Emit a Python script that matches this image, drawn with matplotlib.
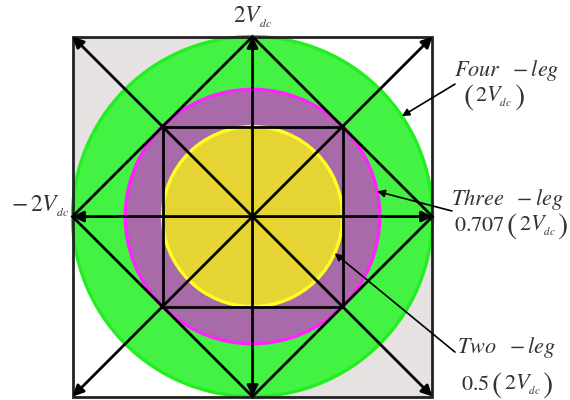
import matplotlib
matplotlib.use("Agg")
import matplotlib.pyplot as plt
from matplotlib.patches import Circle, Rectangle, FancyArrowPatch, Polygon
from matplotlib.offsetbox import TextArea, HPacker, AnnotationBbox
import numpy as np

plt.rcParams["mathtext.fontset"] = "stix"
plt.rcParams["font.family"] = ["STIXGeneral", "DejaVu Serif"]

# Voltage limits expressed as fractions of 2Vdc
names = ["Four", "Three", "Two"]
radii = [1.0, 0.707, 0.5]
prefixes = ["", "0.707", "0.5"]
fills = ["#44f244", "#a86aa8", "#e6d433"]
edges = ["#22ee22", "#ff22ff", "#ffff22"]

# annotation anchor points (tail -> point on circle)
label_pos = [(1.414, 0.814), (1.414, 0.097), (1.414, -0.725)]
value_pos = [(1.339, 0.664), (1.436, -0.053), (1.414, -0.936)]
arrow_tail = [(1.125, 0.736), (1.108, 0.031), (1.125, -0.753)]
arrow_angle_deg = [33.9, 11.4, -24.1]

VDC = r"2V_{{}_{dc}}"

fig = plt.figure(figsize=(5.7, 4.0), dpi=100)
ax = fig.add_axes([0, 0, 1, 1])
ax.set_xlim(-1.403, 1.764)
ax.set_ylim(-1.019, 1.203)
ax.set_aspect("equal")
ax.axis("off")

# grey quadrants behind the circles
gray = "#e6e2e2"
ax.add_patch(Rectangle((-1, 0), 1, 1, facecolor=gray, edgecolor="none", zorder=0))
ax.add_patch(Rectangle((0, -1), 1, 1, facecolor=gray, edgecolor="none", zorder=0))

for r, fc, ec in zip(radii, fills, edges):
    ax.add_patch(Circle((0, 0), r, facecolor=fc, edgecolor=ec, lw=2.4, zorder=1))

lw = 2.0
# outer square
ax.add_patch(Rectangle((-1, -1), 2, 2, facecolor="none", edgecolor="#222222",
                       lw=2.0, zorder=3))
# inner square at +/-0.5
ax.add_patch(Rectangle((-0.5, -0.5), 1, 1, facecolor="none", edgecolor="black",
                       lw=lw, zorder=3))
# diamond through the axis tips
ax.add_patch(Polygon([(0, 1), (1, 0), (0, -1), (-1, 0)], closed=True,
                     facecolor="none", edgecolor="black", lw=lw, zorder=3))

# vectors from the origin to axis tips and corners
tips = [(0, 1), (0, -1), (1, 0), (-1, 0), (1, 1), (-1, 1), (1, -1), (-1, -1)]
for tx, ty in tips:
    ax.add_patch(FancyArrowPatch((0, 0), (tx, ty), arrowstyle="-|>",
                                 mutation_scale=16, lw=lw, color="black",
                                 shrinkA=0, shrinkB=0, zorder=4))

txt_color = "#333333"
ax.text(0, 1.11, f"${VDC}$", ha="center", va="center", fontsize=17,
        color=txt_color)
ax.text(-1.02, 0.06, rf"$-\,{VDC}$", ha="right", va="center", fontsize=17,
        color=txt_color)


def value_box(prefix):
    props = dict(color=txt_color, fontsize=16)
    big = dict(color=txt_color, fontsize=22)
    parts = []
    if prefix:
        parts.append(TextArea(f"${prefix}$", textprops=props))
    parts += [TextArea(r"$($", textprops=big),
              TextArea(f"${VDC}$", textprops=props),
              TextArea(r"$)$", textprops=big)]
    return HPacker(children=parts, align="center", pad=0, sep=1)


for name, r, pre, lp, vp, tail, ang in zip(names, radii, prefixes, label_pos,
                                           value_pos, arrow_tail, arrow_angle_deg):
    ax.text(lp[0], lp[1], rf"$\mathit{{{name}}}\ \ -\mathit{{leg}}$", ha="center",
            va="center", fontsize=16, color=txt_color)
    ab = AnnotationBbox(value_box(pre), vp, frameon=False, box_alignment=(0.5, 0.5),
                        pad=0)
    ax.add_artist(ab)
    a = np.deg2rad(ang)
    head = (r * np.cos(a), r * np.sin(a))
    ax.add_patch(FancyArrowPatch(tail, head, arrowstyle="-|>", mutation_scale=11,
                                 lw=1.2, color="black", shrinkA=0, shrinkB=0,
                                 zorder=5))

fig.savefig("out.png", dpi=100)
